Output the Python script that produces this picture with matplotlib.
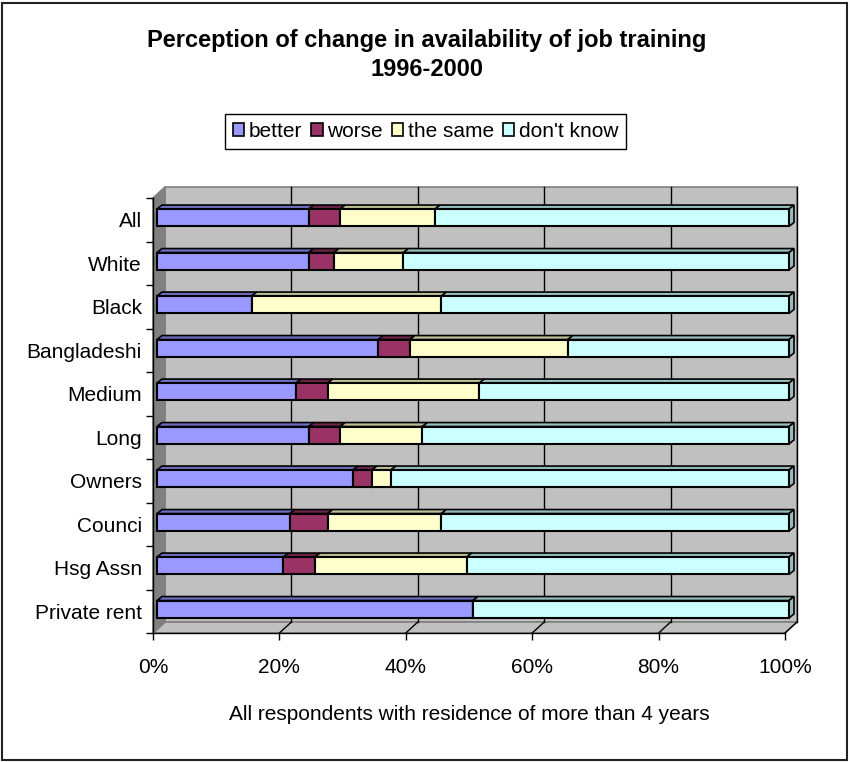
import numpy as np
import matplotlib
matplotlib.use('Agg')
import matplotlib.pyplot as plt
import matplotlib.transforms as mtransforms
from matplotlib.patches import Polygon, Rectangle, Patch

categories = ['All', 'White', 'Black', 'Bangladeshi', 'Medium', 'Long',
              'Owners', 'Counci', 'Hsg Assn', 'Private rent']
better = [24, 24, 15, 35, 22, 24, 31, 21, 20, 50]
worse = [5, 4, 0, 5, 5, 5, 3, 6, 5, 0]
same = [15, 11, 30, 25, 24, 13, 3, 18, 24, 0]
dont_know = [56, 61, 55, 35, 49, 58, 63, 55, 51, 50]
series_names = ['better', 'worse', 'the same', "don't know"]
xticks = [0, 20, 40, 60, 80, 100]
xticklabels = ['0%', '20%', '40%', '60%', '80%', '100%']

front_colors = ['#9999FF', '#993366', '#FFFFCC', '#CCFFFF']
top_colors = ['#6E6EC0', '#6E2449', '#BDBD96', '#96BDBD']

plt.rcParams['font.family'] = ['Liberation Sans', 'DejaVu Sans']
FS = 15

W, H = 850, 762
fig = plt.figure(figsize=(W / 100, H / 100), dpi=100)
fig.patch.set_facecolor('white')

# outer chart border
fig.add_artist(Rectangle((2 / W, 2 / H), 845 / W, 757 / H, transform=fig.transFigure,
                         fill=False, ec='#222222', lw=1.5))

ax = fig.add_axes([153 / W, (H - 633) / H, 632 / W, 435 / H])
n = len(categories)
ax.set_xlim(0, 100)
ax.set_ylim(n - 0.5, -0.5)
ax.patch.set_visible(False)

ident = mtransforms.IdentityTransform()
wall_d = np.array([12, 11])   # depth of the back wall, px
bar_o = np.array([4, 2])      # bar front face offset, px
bar_d = np.array([5, 4])      # bar thickness, px


def px(x, y):
    return ax.transData.transform((x, y))


def face(pts, fc, ec='black', lw=1.2, z=1):
    ax.add_patch(Polygon(pts, closed=True, transform=ident, fc=fc, ec=ec,
                         lw=lw, clip_on=False, zorder=z, joinstyle='miter'))


# back wall
p0, p1 = px(0, n - 0.5), px(100, -0.5)
face([p0 + wall_d, (p1[0] + wall_d[0], p0[1] + wall_d[1]), p1 + wall_d,
      (p0[0] + wall_d[0], p1[1] + wall_d[1])], '#C0C0C0', ec='#808080', z=0.5)
# floor
fl, fr = px(0, n - 0.5), px(100, n - 0.5)
face([fl, fr, fr + wall_d, fl + wall_d], '#C0C0C0', ec='#808080', z=0.6)
# left side wall
lt, lb = px(0, -0.5), px(0, n - 0.5)
face([lb, lt, lt + wall_d, lb + wall_d], '#808080', ec='#808080', z=0.6)

# grid lines on wall and floor
for t in xticks[1:]:
    b = px(t, n - 0.5)
    top = px(t, -0.5)
    ax.plot([b[0] + wall_d[0], top[0] + wall_d[0]], [b[1] + wall_d[1], top[1] + wall_d[1]],
            color='black', lw=1, transform=ident, zorder=0.7, clip_on=False)
    ax.plot([b[0], b[0] + wall_d[0]], [b[1], b[1] + wall_d[1]],
            color='black', lw=1, transform=ident, zorder=0.7, clip_on=False)

# bars
series = [better, worse, same, dont_know]
bar_tr = ax.transData + mtransforms.ScaledTranslation(bar_o[0] / 100, bar_o[1] / 100,
                                                      fig.dpi_scale_trans)
h = 0.4
ypos = np.arange(n)
lefts = np.zeros(n)
for k, vals in enumerate(series):
    vals = np.array(vals, dtype=float)
    ax.barh(ypos, vals, left=lefts, height=h, color=front_colors[k], edgecolor='black',
            lw=1.5, transform=bar_tr, zorder=3, clip_on=False)
    for i in range(n):
        if vals[i] <= 0:
            continue
        a = px(lefts[i], i - h / 2) + bar_o
        b = px(lefts[i] + vals[i], i - h / 2) + bar_o
        face([a, b, b + bar_d, a + bar_d], top_colors[k], lw=1.2, z=2.5)
    lefts = lefts + vals

for i in range(n):
    rt = px(lefts[i], i - h / 2) + bar_o
    rb = px(lefts[i], i + h / 2) + bar_o
    face([rb, rt, rt + bar_d, rb + bar_d], top_colors[3], lw=1.2, z=2.5)

# axes
for s in ['top', 'right']:
    ax.spines[s].set_visible(False)
for s in ['left', 'bottom']:
    ax.spines[s].set_linewidth(1)
    ax.spines[s].set_zorder(1)
ax.set_xticks(xticks)
ax.set_xticklabels(xticklabels, fontsize=FS)
ax.tick_params(axis='x', length=5, width=1, pad=13, direction='out')
ax.set_yticks(ypos)
ax.set_yticklabels(categories, fontsize=FS)
ax.tick_params(axis='y', which='major', length=0, pad=8)
ax.set_yticks(np.arange(n + 1) - 0.5, minor=True)
ax.tick_params(axis='y', which='minor', length=5, width=1, direction='out')
ax.set_xlabel('All respondents with residence of more than 4 years', fontsize=FS,
              labelpad=20)

fig.text(427 / W, 1 - 40 / H, 'Perception of change in availability of job training',
         ha='center', va='center', fontsize=17, fontweight='bold')
fig.text(427 / W, 1 - 69 / H, '1996-2000', ha='center', va='center',
         fontsize=17, fontweight='bold')

handles = [Patch(fc=c, ec='black', lw=1.2) for c in front_colors]
leg = fig.legend(handles, series_names, loc='center', bbox_to_anchor=(425.5 / W, 1 - 131.5 / H),
                 ncol=4, frameon=True, fancybox=False, edgecolor='black', framealpha=1,
                 fontsize=FS, handlelength=0.55, handleheight=0.55, handletextpad=0.2,
                 columnspacing=0.45, borderpad=0.4, borderaxespad=0)
leg.get_frame().set_linewidth(1)

fig.savefig('out.png', dpi=100)
